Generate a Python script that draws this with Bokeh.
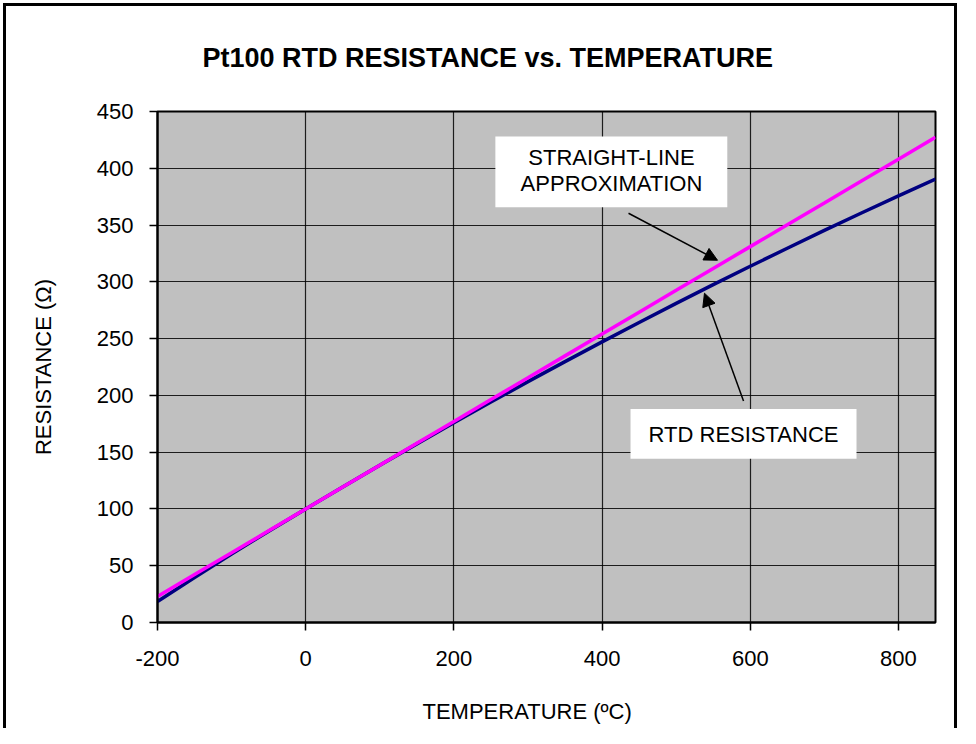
from bokeh.plotting import figure
from bokeh.models import (FixedTicker, Label, BoxAnnotation, Arrow, NormalHead,
                          Range1d, Title)
from bokeh.embed import file_html
from bokeh.resources import INLINE

# ---- data ----
temperature = [-200, -150, -100, -50, 0, 50, 100, 150, 200, 250, 300, 350,
               400, 450, 500, 550, 600, 650, 700, 750, 800, 850]
rtd_resistance = [18.5, 39.7, 60.3, 80.3, 100.0, 119.4, 138.5, 157.3, 175.9,
                  194.1, 212.1, 229.7, 247.1, 264.2, 281.0, 297.5, 313.7,
                  329.6, 345.3, 360.6, 375.7, 390.5]
straight_line = [23.0, 42.3, 61.5, 80.8, 100.0, 119.3, 138.5, 157.8, 177.0,
                 196.3, 215.5, 234.8, 254.0, 273.3, 292.5, 311.8, 331.0,
                 350.3, 369.5, 388.8, 408.0, 427.3]
x_ticks = [-200, 0, 200, 400, 600, 800]
y_ticks = [0, 50, 100, 150, 200, 250, 300, 350, 400, 450]
x_tick_labels = {t: str(t) for t in x_ticks}

title_text = "Pt100 RTD RESISTANCE vs. TEMPERATURE"
x_label = "TEMPERATURE (ºC)"
y_label = "RESISTANCE (Ω)"
note_line = ["STRAIGHT-LINE", "APPROXIMATION"]
note_rtd = "RTD RESISTANCE"

FONT = "Liberation Sans"

p = figure(width=960, height=728, output_backend="svg", toolbar_location=None,
           x_range=Range1d(-200, 850), y_range=Range1d(0, 450),
           min_border_left=157, min_border_right=25, min_border_top=111,
           min_border_bottom=105, background_fill_color="#C0C0C0",
           border_fill_color=None)
p.styles = {
    "background-color": "white",
    "box-shadow": ("inset 0 3px 0 0 white, inset 3px 0 0 0 white, "
                   "inset -3px 0 0 0 white, inset 0 6px 0 0 black, "
                   "inset 6px 0 0 0 black, inset -6px 0 0 0 black"),
}

p.outline_line_color = "black"
p.outline_line_width = 2

for ax in (p.xaxis[0], p.yaxis[0]):
    ax.major_label_text_font = FONT
    ax.major_label_text_font_size = "22px"
    ax.major_label_text_color = "black"
    ax.axis_line_color = "black"
    ax.axis_line_width = 2
    ax.major_tick_line_color = "black"
    ax.major_tick_line_width = 1.5
    ax.major_tick_out = 8
    ax.major_tick_in = 0
    ax.minor_tick_line_color = None

p.xaxis.major_label_standoff = 20
p.yaxis.major_label_standoff = 16
p.xaxis.ticker = FixedTicker(ticks=x_ticks)
p.xaxis.major_label_overrides = x_tick_labels
# spacer so that the axis title sits lower, like the reference
p.xaxis.axis_label = " "
p.xaxis.axis_label_text_font_size = "10px"
p.xaxis.axis_label_standoff = 9
p.yaxis.ticker = FixedTicker(ticks=y_ticks)
p.yaxis.axis_label = y_label
p.yaxis.axis_label_text_font = FONT
p.yaxis.axis_label_text_font_size = "22px"
p.yaxis.axis_label_text_font_style = "normal"
p.yaxis.axis_label_text_color = "black"
p.yaxis.axis_label_standoff = 38

for g in (p.xgrid[0], p.ygrid[0]):
    g.grid_line_color = "black"
    g.grid_line_width = 1.2
    g.grid_line_alpha = 0.85

p.line(temperature, rtd_resistance, line_color="#000080", line_width=3.5)
p.line(temperature, straight_line, line_color="#FF00FF", line_width=3.5)

# annotation boxes
p.add_layout(BoxAnnotation(left=256, right=569, bottom=365.6, top=428,
                           fill_color="white", fill_alpha=1, line_color=None))
p.add_layout(BoxAnnotation(left=438.4, right=743.4, bottom=144.1, top=188.1,
                           fill_color="white", fill_alpha=1, line_color=None))

for txt, yy in ((note_line[0], 409.6), (note_line[1], 386.7)):
    p.add_layout(Label(x=412.7, y=yy, text=txt, text_align="center",
                       text_baseline="middle", text_font=FONT,
                       text_font_size="22px", text_color="black"))
p.add_layout(Label(x=590.9, y=165.2, text=note_rtd, text_align="center",
                   text_baseline="middle", text_font=FONT,
                   text_font_size="22px", text_color="black"))

p.add_layout(Arrow(x_start=435.7, y_start=360.4, x_end=555.8, y_end=319.0,
                   line_color="black", line_width=1.5,
                   end=NormalHead(size=13, fill_color="black", line_color="black")))
p.add_layout(Arrow(x_start=590.9, y_start=195.1, x_end=538.2, y_end=290.0,
                   line_color="black", line_width=1.5,
                   end=NormalHead(size=13, fill_color="black", line_color="black")))

# title and x-axis title
p.add_layout(Title(text=title_text, align="left", offset=45, standoff=78,
                   vertical_align="bottom", text_font=FONT,
                   text_font_size="27px", text_font_style="bold",
                   text_color="black"), "above")
p.add_layout(Title(text=x_label, align="left", offset=265, standoff=10,
                   vertical_align="bottom", text_font=FONT,
                   text_font_size="22px", text_font_style="normal",
                   text_color="black"), "below")

open("out.html", "w").write(file_html(p, INLINE))
